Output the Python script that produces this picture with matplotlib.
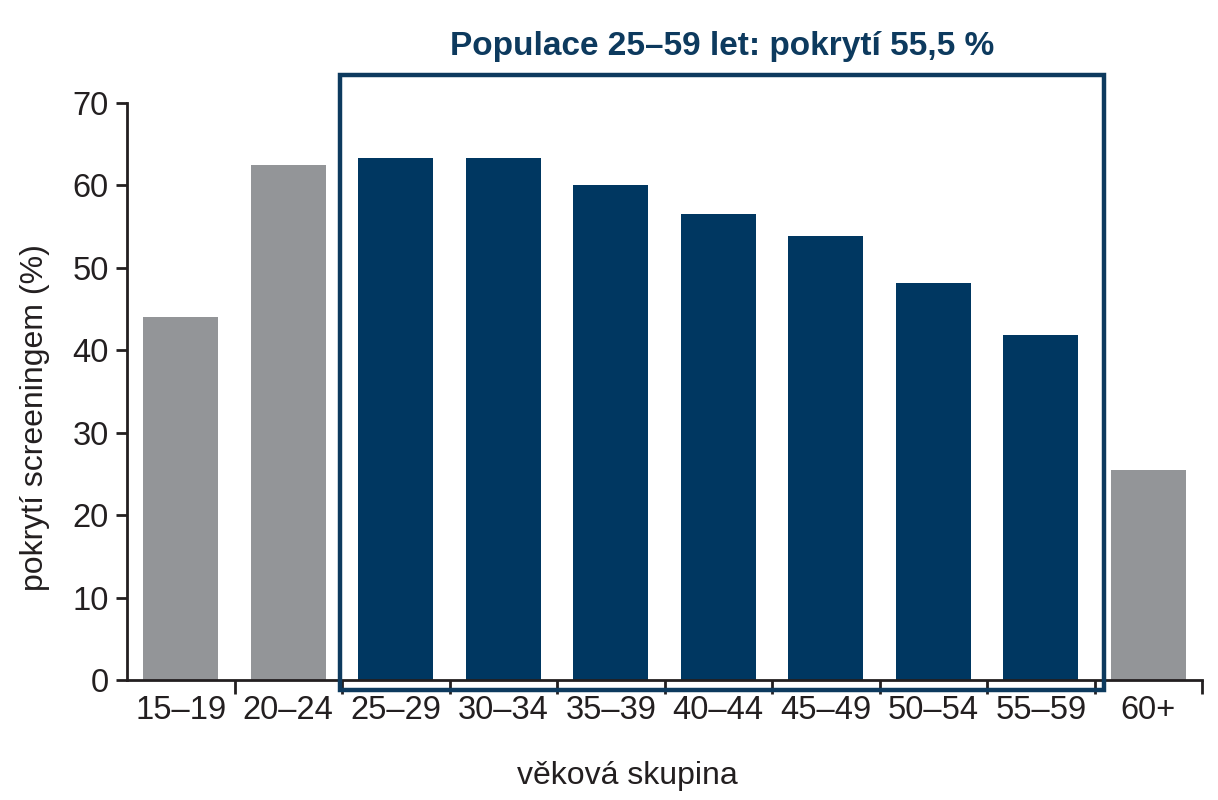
import matplotlib
matplotlib.use("Agg")
import matplotlib.pyplot as plt
from matplotlib.patches import Rectangle

categories = ["15–19", "20–24", "25–29", "30–34", "35–39", "40–44",
              "45–49", "50–54", "55–59", "60+"]
values = [44.0, 62.5, 63.3, 63.3, 60.0, 56.5, 53.9, 48.2, 41.9, 25.5]
highlight = [False, False, True, True, True, True, True, True, True, False]
title_text = "Populace 25–59 let: pokrytí 55,5 %"
xlabel = "věková skupina"
ylabel = "pokrytí screeningem (%)"
yticks = [0, 10, 20, 30, 40, 50, 60, 70]

NAVY = "#003761"
GRAY = "#939598"
BOX = "#0d3a5e"
TEXT = "#231f20"

plt.rcParams['font.family'] = ['Liberation Sans', 'DejaVu Sans']

fig = plt.figure(figsize=(12.18, 8), dpi=100)
ax = fig.add_axes([0.1043, 0.15, 0.8826, 0.72125])

x = list(range(len(categories)))
colors = [NAVY if h else GRAY for h in highlight]
ax.bar(x, values, width=0.7, color=colors, zorder=2)

ax.set_xlim(-0.5, len(categories) - 0.5)
ax.set_ylim(0, 70)
ax.set_yticks(yticks)
ax.set_yticklabels([str(v) for v in yticks], fontsize=23.5, color=TEXT)

# category labels centered, ticks at boundaries
ax.set_xticks(x)
ax.set_xticklabels(categories, fontsize=23.5, color=TEXT)
ax.tick_params(axis='x', which='major', length=0, pad=11)
ax.set_xticks([i + 0.5 for i in range(len(categories))], minor=True)
ax.tick_params(axis='x', which='minor', length=10, width=2, color=TEXT, direction='out')
ax.tick_params(axis='y', length=8, width=2, color=TEXT, pad=5)

for s in ['top', 'right']:
    ax.spines[s].set_visible(False)
for s in ['left', 'bottom']:
    ax.spines[s].set_linewidth(2)
    ax.spines[s].set_color(TEXT)

ax.set_xlabel(xlabel, fontsize=23, color=TEXT)
ax.set_ylabel(ylabel, fontsize=23, color=TEXT)
ax.xaxis.set_label_coords(0.465, -0.140)
ax.yaxis.set_label_coords(-0.0716, 0.454)

# highlight box around 25–59
hi_idx = [i for i, h in enumerate(highlight) if h]
x0 = hi_idx[0] - 0.52
x1 = hi_idx[-1] + 0.59
rect = Rectangle((x0, -1.25), x1 - x0, 74.7, fill=False, edgecolor=BOX,
                 linewidth=3.2, clip_on=False, zorder=3)
ax.add_patch(rect)
ax.text((x0 + x1) / 2, 75.8, title_text, ha='center', va='baseline',
        fontsize=24, fontweight='bold', color=BOX)

fig.savefig("out.png", dpi=100)
